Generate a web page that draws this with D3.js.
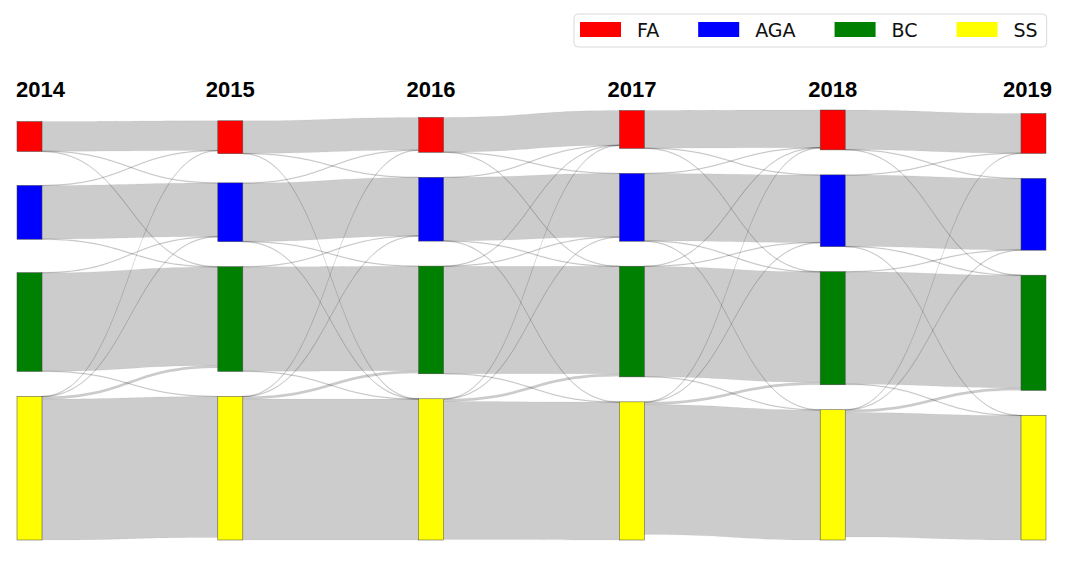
<!DOCTYPE html>
<html>
<head>
<meta charset="utf-8">
<script src="https://cdnjs.cloudflare.com/ajax/libs/d3/7.8.5/d3.min.js"></script>
<style>
  body { margin: 0; background: #fff; }
</style>
</head>
<body>
<div id="chart"></div>
<script>
// years (columns) and categories (nodes in each column)
const years = ["2014", "2015", "2016", "2017", "2018", "2019"];
const categories = ["FA", "AGA", "BC", "SS"];
const catColors = ["#ff0000", "#0000ff", "#008000", "#ffff00"];

// transitions between consecutive years, rows = from, cols = to (FA, AGA, BC, SS)
const flows1415 = [[29.8, 0.1, 0.1, 0], [0.1, 53.8, 0.1, 0], [0, 0.1, 98.8, 0.1], [0.1, 0.1, 2.5, 141.3]];
const flows1516 = [[32.8, 0.1, 0, 0.1], [0.1, 58.7, 0.1, 0.1], [0, 0.1, 104.8, 0.1], [0.1, 0.1, 2.5, 141.3]];
const flows1617 = [[34.8, 0.1, 0.1, 0], [0.1, 63.7, 0.1, 0.1], [0.1, 0.1, 107.7, 0.1], [0.1, 0.1, 2.5, 138.3]];
const flows1718 = [[37.8, 0.1, 0.1, 0], [0.1, 67.7, 0.1, 0.1], [0.1, 0.1, 110.7, 0.1], [0.1, 0.1, 2.5, 130.4]];
const flows1819 = [[39.8, 0.1, 0.1, 0], [0.1, 71.7, 0.1, 0.1], [0, 0.1, 112.8, 0.1], [0.1, 0.1, 2.5, 124.8]];
const allFlows = [flows1415, flows1516, flows1617, flows1718, flows1819];

const W = 1067, H = 565;
const y0 = 110, y1 = 540;   // vertical extent of the diagram
const py = 25;              // node padding
const nodeW = 25;
const iterations = 32;

const svg = d3.select("#chart").append("svg")
    .attr("width", W)
    .attr("height", H)
    .style("font-family", "'DejaVu Sans', sans-serif");

const x = d3.scalePoint()
    .domain(years)
    .range([17, 1021]);

const color = d3.scaleOrdinal()
    .domain(categories)
    .range(catColors);

// build graph
let nodes = [];
years.forEach((yr, yi) => {
    categories.forEach(c => {
        nodes.push({ year: yr, cat: c, layer: yi, sourceLinks: [], targetLinks: [] });
    });
});
let links = [];
allFlows.forEach((m, k) => {
    m.forEach((row, i) => {
        row.forEach((v, j) => {
            if (v <= 0) return;
            let s = nodes[k * 4 + i], t = nodes[(k + 1) * 4 + j];
            let l = { source: s, target: t, value: v };
            s.sourceLinks.push(l);
            t.targetLinks.push(l);
            links.push(l);
        });
    });
});
nodes.forEach(n => {
    n.value = Math.max(d3.sum(n.sourceLinks, l => l.value), d3.sum(n.targetLinks, l => l.value));
    n.x0 = x(n.year);
    n.x1 = n.x0 + nodeW;
});
const columns = years.map((yr, yi) => nodes.filter(n => n.layer === yi));

// --- sankey layout (centre based relaxation) ---
const center = n => (n.y0 + n.y1) / 2;

const ky = d3.min(columns, c => (y1 - y0 - (c.length - 1) * py) / d3.sum(c, n => n.value));
columns.forEach(col => col.forEach((n, i) => {
    n.y0 = i;
    n.y1 = i + n.value * ky;
}));
links.forEach(l => l.width = l.value * ky);

function resolveCollisions() {
    columns.forEach(col => {
        col.sort((a, b) => a.y0 - b.y0);
        let y = y0, n, dy;
        for (let i = 0; i < col.length; ++i) {
            n = col[i];
            dy = y - n.y0;
            if (dy > 0) { n.y0 += dy; n.y1 += dy; }
            y = n.y1 + py;
        }
        dy = y - py - y1;
        if (dy > 0) {
            n.y0 -= dy; n.y1 -= dy;
            y = n.y0;
            for (let i = col.length - 2; i >= 0; --i) {
                n = col[i];
                dy = n.y1 + py - y;
                if (dy > 0) { n.y0 -= dy; n.y1 -= dy; }
                y = n.y0;
            }
        }
    });
}
function relaxLeftToRight(alpha) {
    columns.forEach(col => col.forEach(n => {
        if (!n.targetLinks.length) return;
        const dy = (d3.sum(n.targetLinks, l => center(l.source) * l.value) /
            d3.sum(n.targetLinks, l => l.value) - center(n)) * alpha;
        n.y0 += dy; n.y1 += dy;
    }));
}
function relaxRightToLeft(alpha) {
    columns.slice().reverse().forEach(col => col.forEach(n => {
        if (!n.sourceLinks.length) return;
        const dy = (d3.sum(n.sourceLinks, l => center(l.target) * l.value) /
            d3.sum(n.sourceLinks, l => l.value) - center(n)) * alpha;
        n.y0 += dy; n.y1 += dy;
    }));
}

resolveCollisions();
for (let alpha = 1, k = iterations; k > 0; --k) {
    relaxRightToLeft(alpha *= 0.99);
    resolveCollisions();
    relaxLeftToRight(alpha);
    resolveCollisions();
}

// link breadths
nodes.forEach(n => {
    n.sourceLinks.sort((a, b) => a.target.y0 - b.target.y0);
    n.targetLinks.sort((a, b) => a.source.y0 - b.source.y0);
});
nodes.forEach(n => {
    let a = n.y0, b = n.y0;
    n.sourceLinks.forEach(l => { l.y0 = a + l.width / 2; a += l.width; });
    n.targetLinks.forEach(l => { l.y1 = b + l.width / 2; b += l.width; });
});

// link shape: filled band with horizontal bezier curves (at least 1px thick)
function linkPath(l) {
    const xa = l.source.x1, xb = l.target.x0;
    const xm = d3.interpolateNumber(xa, xb)(0.5);
    const h = Math.max(l.width, 1) / 2;
    return "M" + xa + "," + (l.y0 - h) +
        "C" + xm + "," + (l.y0 - h) + " " + xm + "," + (l.y1 - h) + " " + xb + "," + (l.y1 - h) +
        "L" + xb + "," + (l.y1 + h) +
        "C" + xm + "," + (l.y1 + h) + " " + xm + "," + (l.y0 + h) + " " + xa + "," + (l.y0 + h) + "Z";
}

svg.append("g")
    .selectAll("path")
    .data(links)
    .join("path")
    .attr("d", linkPath)
    .attr("fill", "rgba(0,0,0,0.2)")
    .attr("stroke", "rgba(0,0,0,0.1)")
    .attr("stroke-width", 0.4);

svg.append("g")
    .selectAll("rect")
    .data(nodes)
    .join("rect")
    .attr("x", d => d.x0)
    .attr("y", d => d.y0)
    .attr("width", nodeW)
    .attr("height", d => d.y1 - d.y0)
    .attr("fill", d => color(d.cat))
    .attr("stroke", "#444")
    .attr("stroke-width", 0.5);

// year labels above the columns
svg.append("g")
    .selectAll("text")
    .data(years)
    .join("text")
    .attr("x", (d, i) => i === 0 ? x(d) - 1 : i === years.length - 1 ? x(d) + nodeW + 6 : x(d) + nodeW / 2)
    .attr("y", 97)
    .attr("text-anchor", (d, i) => i === 0 ? "start" : i === years.length - 1 ? "end" : "middle")
    .style("font-family", "'Liberation Sans', Arial, sans-serif")
    .style("font-weight", "bold")
    .style("font-size", "22px")
    .attr("fill", "#000")
    .text(d => d);

// legend
const legend = svg.append("g");
const legendBox = legend.append("rect")
    .attr("x", 574)
    .attr("y", 14)
    .attr("height", 33)
    .attr("rx", 4)
    .attr("fill", "#fff")
    .attr("stroke", "#d9d9d9")
    .attr("stroke-width", 1);
let lx = 580;
categories.forEach(c => {
    legend.append("rect")
        .attr("x", lx)
        .attr("y", 22)
        .attr("width", 41)
        .attr("height", 15)
        .attr("fill", color(c));
    const t = legend.append("text")
        .attr("x", lx + 57)
        .attr("y", 37)
        .style("font-size", "19px")
        .attr("fill", "#111")
        .text(c);
    lx += 57 + t.node().getComputedTextLength() + 39;
});
legendBox.attr("width", lx - 39 + 9 - 574);
</script>
</body>
</html>
